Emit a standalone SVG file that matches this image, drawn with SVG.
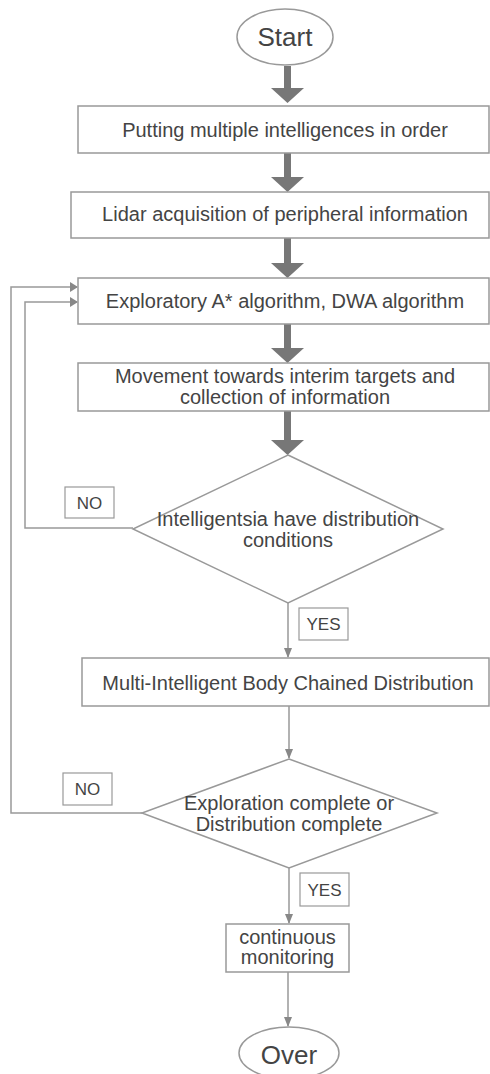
<svg xmlns="http://www.w3.org/2000/svg" width="490" height="1074" viewBox="0 0 490 1074">
<defs>
<marker id="thin" markerWidth="10" markerHeight="8" refX="9" refY="4" orient="auto" markerUnits="userSpaceOnUse"><path d="M0,0 L10,4 L0,8 Z" fill="#888"/></marker>
<marker id="side" markerWidth="8" markerHeight="10" refX="7" refY="5" orient="auto" markerUnits="userSpaceOnUse"><path d="M0,0 L8,5 L0,10 Z" fill="#888"/></marker>
</defs>
<style>
.box{fill:#fff;stroke:#999;stroke-width:1.5}
.lbl{fill:#fff;stroke:#999;stroke-width:1.2}
.t{font-family:"Liberation Sans",Arial,sans-serif;fill:#444;text-anchor:middle}
.m{font-size:20px}
.s{font-size:17px}
.big{font-size:26px}
.ln{fill:none;stroke:#999;stroke-width:1.5}
.thick{fill:#777}
</style>
<rect width="490" height="1074" fill="#fff"/>
<g id="connectors">
<path class="thick" d="M284,66 h7 v22 h13 l-16.5,15 l-16.5,-15 h13 z"/>
<path class="thick" d="M284,153 h7 v24 h13 l-16.5,15 l-16.5,-15 h13 z"/>
<path class="thick" d="M284,238 h7 v25 h13 l-16.5,15 l-16.5,-15 h13 z"/>
<path class="thick" d="M284,324 h7 v24 h13 l-16.5,15 l-16.5,-15 h13 z"/>
<path class="thick" d="M284,411 h7 v29 h13 l-16.5,15 l-16.5,-15 h13 z"/>
<path class="ln" d="M133,528 H25 V302 H77" marker-end="url(#side)"/>
<path class="ln" d="M142,813 H11 V287 H77" marker-end="url(#side)"/>
<path class="ln" d="M288,603 V657" marker-end="url(#thin)"/>
<path class="ln" d="M289,706 V758" marker-end="url(#thin)"/>
<path class="ln" d="M289,868 V923" marker-end="url(#thin)"/>
<path class="ln" d="M288,972 V1026" marker-end="url(#thin)"/>
</g>
<g id="start"><ellipse class="box" cx="285" cy="37" rx="48" ry="28"/><text class="t big" x="285" y="46">Start</text></g>
<g id="n1"><rect class="box" x="78" y="106" width="411" height="47"/><text class="t m" x="285" y="137">Putting multiple intelligences in order</text></g>
<g id="n2"><rect class="box" x="71" y="192" width="418" height="46"/><text class="t m" x="285" y="221">Lidar acquisition of peripheral information</text></g>
<g id="n3"><rect class="box" x="78" y="278" width="411" height="46"/><text class="t m" x="285" y="308">Exploratory A* algorithm, DWA algorithm</text></g>
<g id="n4"><rect class="box" x="78" y="363" width="411" height="48"/><text class="t m" x="285" y="383">Movement towards interim targets and</text><text class="t m" x="285" y="404">collection of information</text></g>
<g id="d1"><polygon class="box" points="288,455 443,529 288,603 133,529"/><text class="t m" x="288" y="526">Intelligentsia have distribution</text><text class="t m" x="288" y="547">conditions</text></g>
<g id="no1"><rect class="lbl" x="65" y="487" width="49" height="31"/><text class="t s" x="89.5" y="509">NO</text></g>
<g id="yes1"><rect class="lbl" x="299" y="608" width="49" height="32"/><text class="t s" x="323.5" y="630">YES</text></g>
<g id="n5"><rect class="box" x="82" y="658" width="407" height="48"/><text class="t m" x="288" y="690">Multi-Intelligent Body Chained Distribution</text></g>
<g id="d2"><polygon class="box" points="289,759 437,813 289,868 142,813"/><text class="t m" x="289" y="810">Exploration complete or</text><text class="t m" x="289" y="831">Distribution complete</text></g>
<g id="no2"><rect class="lbl" x="63" y="773" width="49" height="32"/><text class="t s" x="87.5" y="795">NO</text></g>
<g id="yes2"><rect class="lbl" x="300" y="873" width="49" height="33"/><text class="t s" x="324.5" y="896">YES</text></g>
<g id="n6"><rect class="box" x="226" y="924" width="123" height="48"/><text class="t m" x="287.5" y="944">continuous</text><text class="t m" x="287.5" y="964">monitoring</text></g>
<g id="over"><ellipse class="box" cx="289" cy="1053" rx="50" ry="26"/><text class="t big" x="289" y="1064">Over</text></g>
</svg>
